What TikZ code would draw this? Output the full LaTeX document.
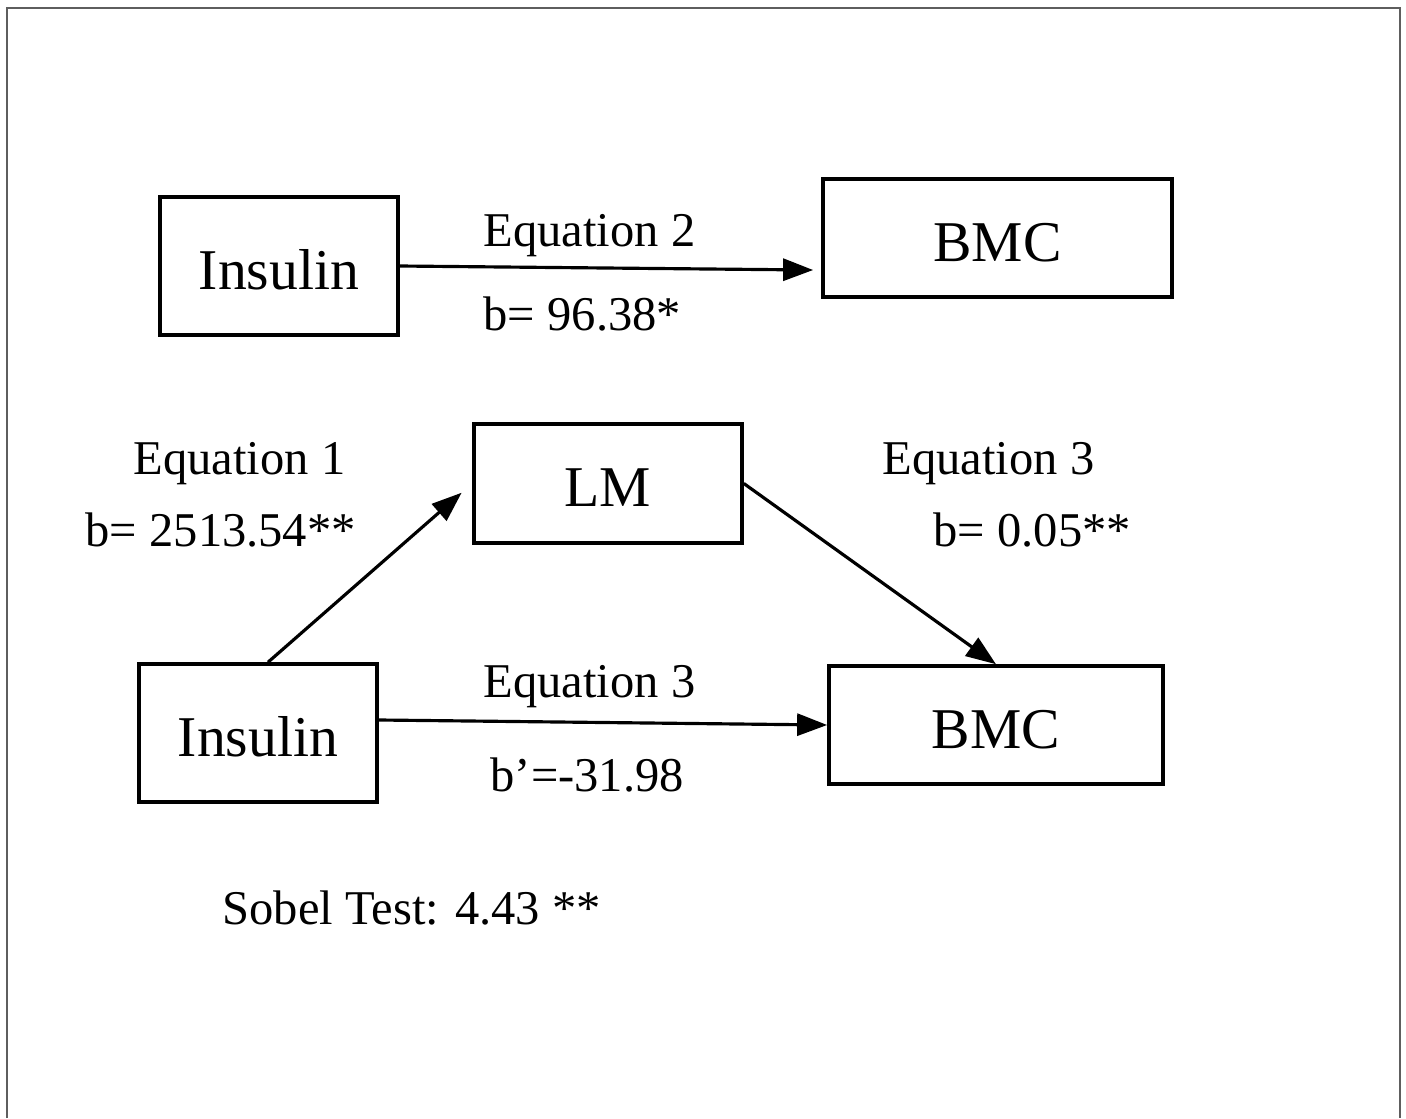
\documentclass[tikz,border=0pt]{standalone}
\usepackage{fontspec}
\setmainfont{Liberation Serif}
\usepackage{tikz}
\usetikzlibrary{arrows.meta}
\usetikzlibrary{calc}
\definecolor{framecolor}{HTML}{5E5E5E}

\begin{document}
\begin{tikzpicture}[x=0.01cm,y=-0.01cm,
  box/.style={draw=black,line width=1pt,rectangle,inner sep=0pt,text height=0.46cm,text depth=0pt,font=\fontsize{16.4}{19}\selectfont},
  lbl/.style={anchor=base west,inner sep=0pt,font=\fontsize{13.8}{16}\selectfont},
  arr/.style={line width=0.9pt,-{Triangle[length=0.3cm,width=0.22cm]}}]
\useasboundingbox (0,0) rectangle (1406,1118);
\draw[color=framecolor,line width=0.8pt] (7,1118) -- (7,8) -- (1400,8) -- (1400,1118);

% top row
\node[box,minimum width=2.38cm,minimum height=1.38cm] (ins1) at (279,266) {Insulin};
\node[box,minimum width=3.49cm,minimum height=1.18cm] (bmc1) at (997.5,238) {BMC};
\draw[arr] (ins1.east) -- ([xshift=-0.08cm,yshift=-0.32cm]bmc1.west);
\node[lbl] (eq2) at (483,246) {Equation 2};
\node[lbl] (b2) at (483,330) {b= 96.38*};

% mediation
\node[box,minimum width=2.68cm,minimum height=1.19cm] (lm) at (608,483.5) {LM};
\node[box,minimum width=2.38cm,minimum height=1.38cm] (ins2) at (258,733) {Insulin};
\node[box,minimum width=3.34cm,minimum height=1.18cm] (bmc2) at (996,725) {BMC};
\draw[arr,shorten >=0.14cm] ([xshift=0.1cm]ins2.north) -- (lm.west);
\draw[arr] (lm.east) -- (bmc2.north);
\draw[arr] ([yshift=0.13cm]ins2.east) -- (bmc2.west);

\node[lbl] (eq1) at (133,474) {Equation 1};
\node[lbl] (b1) at (85,546) {b= 2513.54**};
\node[lbl] (eq3a) at (882,474) {Equation 3};
\node[lbl] (b3a) at (933,546) {b= 0.05**};
\node[lbl] (eq3b) at (483,697) {Equation 3};
\node[lbl] (b3b) at (490,791) {b’=-31.98};
\node[lbl] (sobel) at (222,924) {Sobel Test: 4.43 **};
\end{tikzpicture}
\end{document}
